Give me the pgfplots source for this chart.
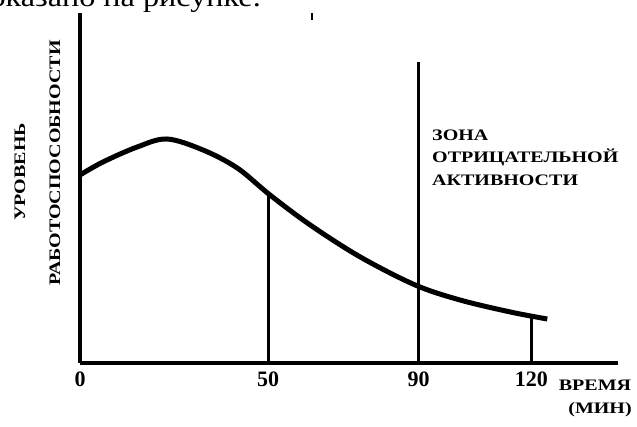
\documentclass[border=0pt]{standalone}
\usepackage{pgfplots}
\pgfplotsset{compat=1.18}
\usepackage{graphicx}
\usepackage{fontspec}
\setmainfont{Liberation Serif}
\newcommand\lbl[1]{\scalebox{1.25}[1]{\fontsize{16}{16}\selectfont\bfseries #1}}
\begin{document}
\begin{tikzpicture}[x=1pt,y=1pt]
\begin{scope}
\clip (0,0) rectangle (637,427);
\node[anchor=base east, inner sep=0] at (261,420) {\scalebox{1.15}[1]{\fontsize{28}{28}\selectfont показано на рисунке.}};
\draw[line width=2pt] (312,407) -- (312,414);
\begin{axis}[
  at={(80pt,64pt)}, anchor=south west,
  scale only axis, width=538pt, height=350pt,
  xmin=0, xmax=143, ymin=0, ymax=350,
  axis lines=left,
  axis line style={line width=3.5pt, -},
  xtick={0,50,90,120}, ytick=\empty,
  major tick length=0pt,
  /pgf/number format/assume math mode=true,
  xticklabel style={font=\fontsize{22}{22}\selectfont\bfseries, yshift=-5pt},
  clip=false,
]
\addplot[black, line width=5pt, smooth, tension=0.55] coordinates {
 (0,188) (6.1,201) (15.2,216) (23.1,224) (32.7,213) (41.8,195) (50.5,168)
 (61.2,138) (74.5,106) (89.1,78) (101,63) (114.4,51) (124.2,44)};
\addplot[black, line width=3pt] coordinates {(50,0) (50,168)};
\addplot[black, line width=3.5pt] coordinates {(90,0) (90,301)};
\addplot[black, line width=3pt] coordinates {(120,0) (120,47)};
\end{axis}
\node[anchor=west, inner sep=0] at (432,292) {\lbl{ЗОНА}};
\node[anchor=west, inner sep=0] at (432,270) {\lbl{ОТРИЦАТЕЛЬНОЙ}};
\node[anchor=west, inner sep=0] at (432,247) {\lbl{АКТИВНОСТИ}};
\node[rotate=90, inner sep=0] at (20,255) {\lbl{УРОВЕНЬ}};
\node[rotate=90, inner sep=0] at (55,264) {\lbl{РАБОТОСПОСОБНОСТИ}};
\node[inner sep=0] at (595,42) {\lbl{ВРЕМЯ}};
\node[inner sep=0] at (600,17) {\lbl{(МИН)}};
\end{scope}
\pgfresetboundingbox
\useasboundingbox (0,0) rectangle (637,427);
\end{tikzpicture}
\end{document}
